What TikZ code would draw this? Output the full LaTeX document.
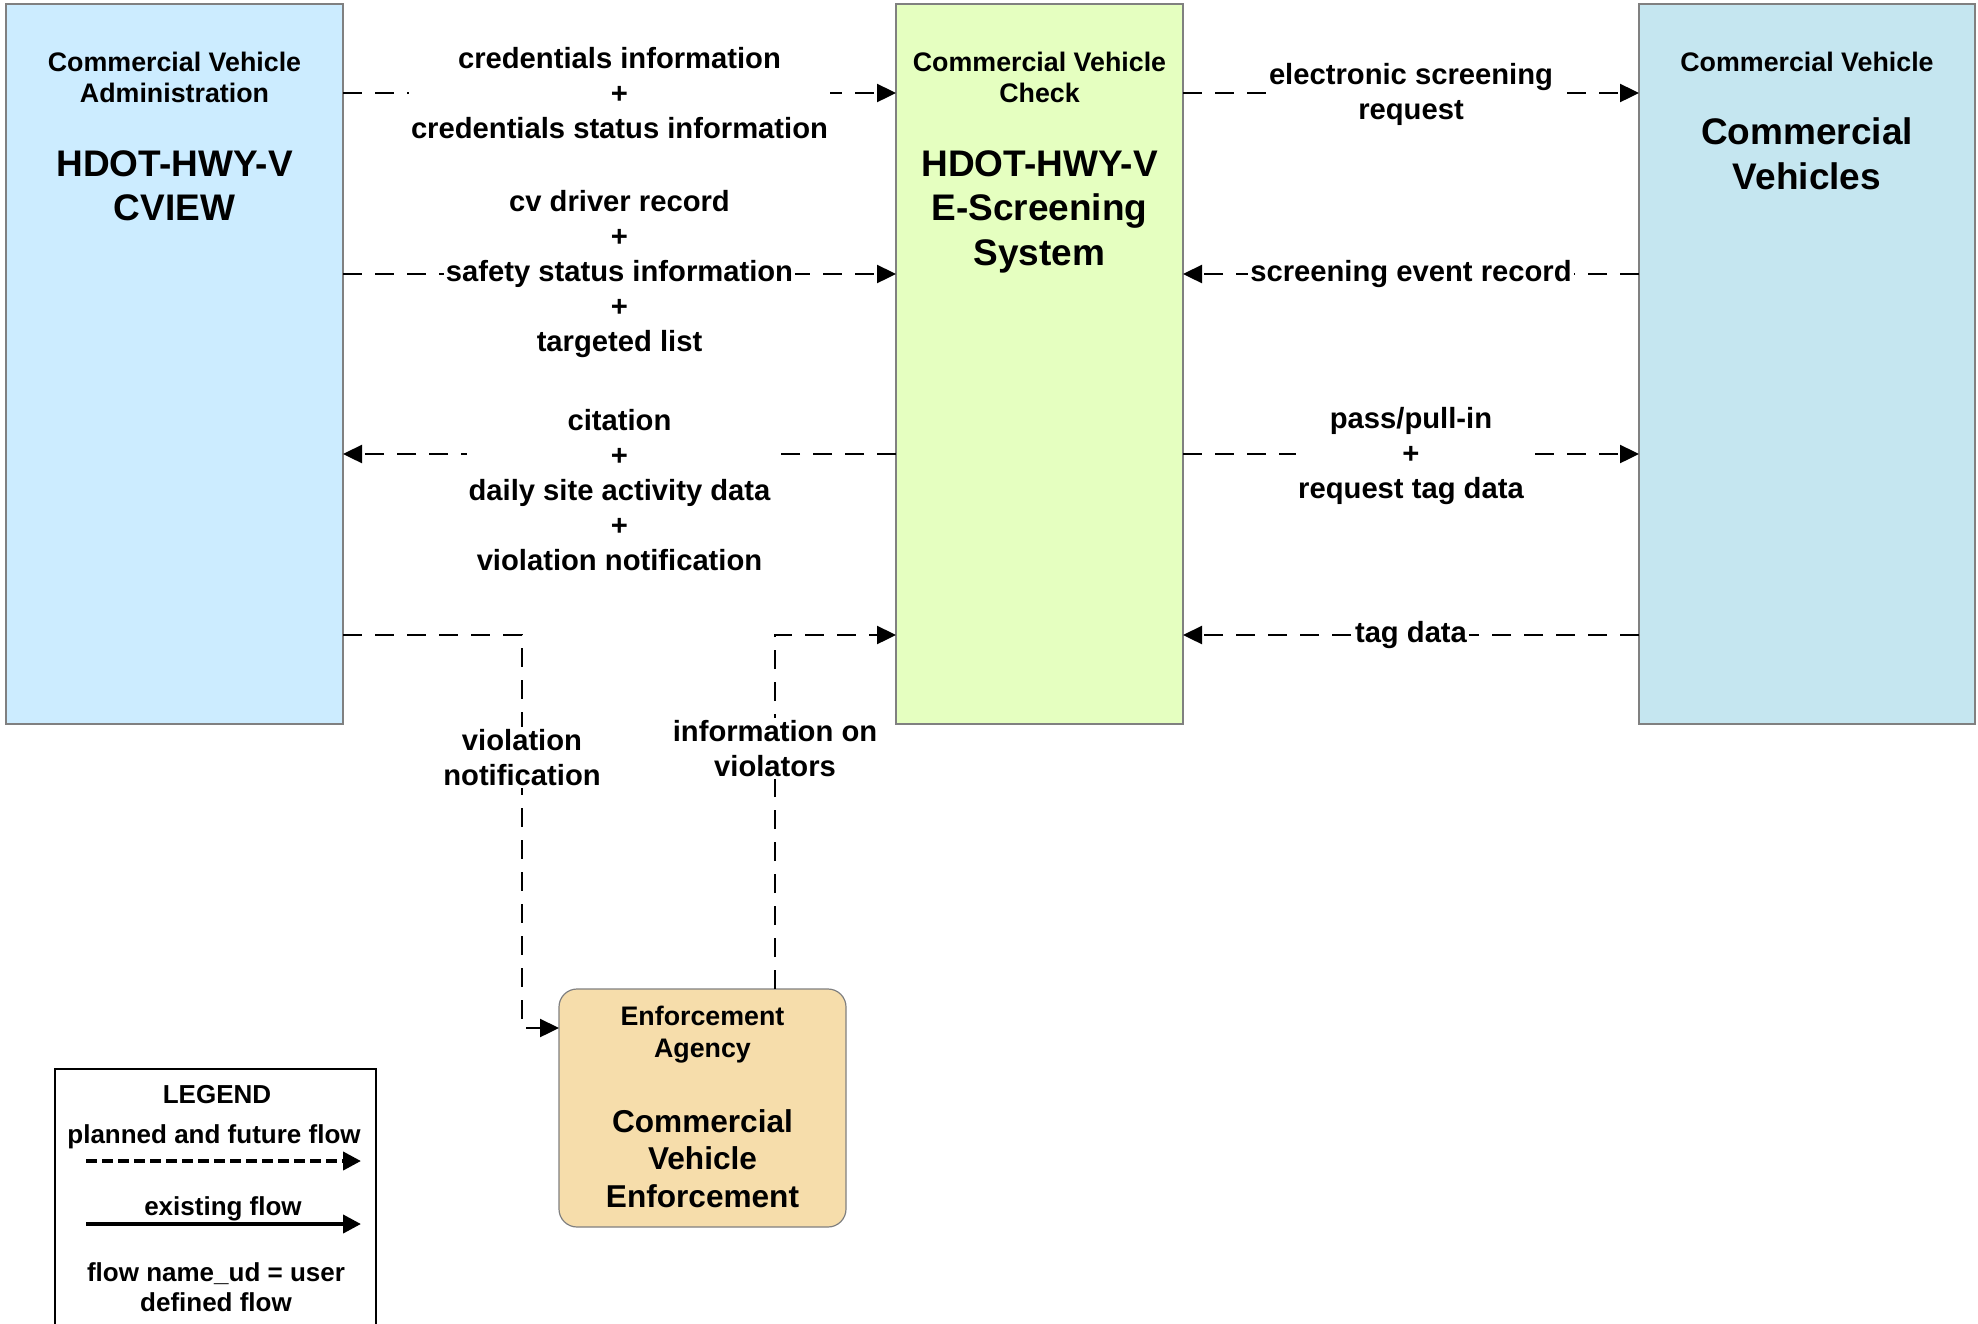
\documentclass[tikz,border=0pt]{standalone}
\usepackage{fontspec}
\setmainfont{Liberation Sans}
\usetikzlibrary{arrows.meta,positioning}

\definecolor{cvablue}{RGB}{204,236,255}
\definecolor{ecsgreen}{RGB}{229,255,192}
\definecolor{cvsblue}{RGB}{197,230,240}
\definecolor{cvetan}{RGB}{246,221,171}

\begin{document}
\begin{tikzpicture}[x=0.5pt,y=-0.5pt,
        sysbox/.style={draw=black!50,line width=0.6pt,inner sep=0pt,outer sep=0pt,
          anchor=north west,minimum height=360pt},
        tsmall/.style={font=\fontsize{13.4}{15.5}\selectfont\bfseries,align=center,inner sep=0pt},
        tbig/.style={font=\fontsize{18.5}{22.3}\selectfont\bfseries,align=center,inner sep=0pt},
        lbl/.style={font=\fontsize{14.6}{17.5}\selectfont\bfseries,align=center,fill=white,inner sep=1pt},
        legtxt/.style={font=\fontsize{13}{15}\selectfont\bfseries,align=center,inner sep=0pt},
        flow/.style={dash pattern=on 9.5pt off 6.5pt,line width=1.2pt,-{Triangle[length=9.5pt,width=9pt]}}]
        \useasboundingbox (0,0) rectangle (1978,1324);

        % systems
        \node[sysbox,fill=cvablue,minimum width=168.5pt] (cva) at (6,4) {};
        \node[sysbox,fill=ecsgreen,minimum width=143.5pt] (ecs) at (896,4) {};
        \node[sysbox,fill=cvsblue,minimum width=168pt] (cvs) at (1639,4) {};
        \node[sysbox,fill=cvetan,rounded corners=9pt,minimum width=143.5pt,minimum height=119pt] (cve) at (559,989) {};

        \node[tsmall,below=24pt of cva.north] (cvaown) {Commercial Vehicle\\Administration};
        \node[tbig,below=73pt of cva.north] (cvaname) {HDOT-HWY-V\\CVIEW};
        \node[tsmall,below=24pt of ecs.north] (ecsown) {Commercial Vehicle\\Check};
        \node[tbig,below=73pt of ecs.north] (ecsname) {HDOT-HWY-V\\E-Screening\\System};
        \node[tsmall,below=24pt of cvs.north] (cvsown) {Commercial Vehicle};
        \node[tbig,below=56.75pt of cvs.north] (cvsname) {Commercial\\Vehicles};
        \node[tsmall,font=\fontsize{13.4}{16}\selectfont\bfseries,below=8.5pt of cve.north] (cveown) {Enforcement\\Agency};
        \node[tbig,font=\fontsize{15.8}{18.8}\selectfont\bfseries,below=60pt of cve.north] (cvename) {Commercial\\Vehicle\\Enforcement};

        % flows
        \draw[flow] (cva.east |- 0,93) -- node[lbl]{credentials information\\+\\credentials status information} (ecs.west |- 0,93);
        \draw[flow] (cva.east |- 0,274) -- node[lbl]{cv driver record\\+\\safety status information\\+\\targeted list} (ecs.west |- 0,274);
        \draw[flow] (ecs.west |- 0,454) -- node[lbl,yshift=-18.25pt]{citation\\+\\daily site activity data\\+\\violation notification} (cva.east |- 0,454);
        \draw[flow] (cva.east |- 0,635) -| node[lbl,pos=0.656]{violation\\notification} (522,1028) -- (cve.west |- 0,1028);
        \draw[flow] (cve.north -| 775,0) |- node[lbl,pos=0.34]{information on\\violators} (ecs.west |- 0,635);

        \draw[flow] (ecs.east |- 0,93) -- node[lbl,yshift=-0.75pt]{electronic screening\\request} (cvs.west |- 0,93);
        \draw[flow] (cvs.west |- 0,274) -- node[lbl]{screening event record} (ecs.east |- 0,274);
        \draw[flow] (ecs.east |- 0,454) -- node[lbl,yshift=-1pt]{pass/pull-in\\+\\request tag data} (cvs.west |- 0,454);
        \draw[flow] (cvs.west |- 0,635) -- node[lbl]{tag data} (ecs.east |- 0,635);

        % legend
        \node[draw,line width=1pt,inner sep=0pt,anchor=north west,minimum width=160.5pt,minimum height=140pt] (legend) at (54,1068) {};
        \node[legtxt,anchor=base] (legtitle) at (217,1103) {LEGEND};
        \node[legtxt,anchor=base] (legplan) at (214,1143) {planned and future flow};
        \draw[line width=2pt,dash pattern=on 5.5pt off 2.5pt,-{Triangle[length=9pt,width=9pt]}] (86,1161) -- (361,1161);
        \node[legtxt,anchor=base] (legexist) at (223,1215) {existing flow};
        \draw[line width=2pt,-{Triangle[length=9pt,width=9pt]}] (86,1224) -- (361,1224);
        \node[legtxt,anchor=north] (legud) at (216,1262) {flow name\_ud = user\\defined flow};
      \end{tikzpicture}
\end{document}
